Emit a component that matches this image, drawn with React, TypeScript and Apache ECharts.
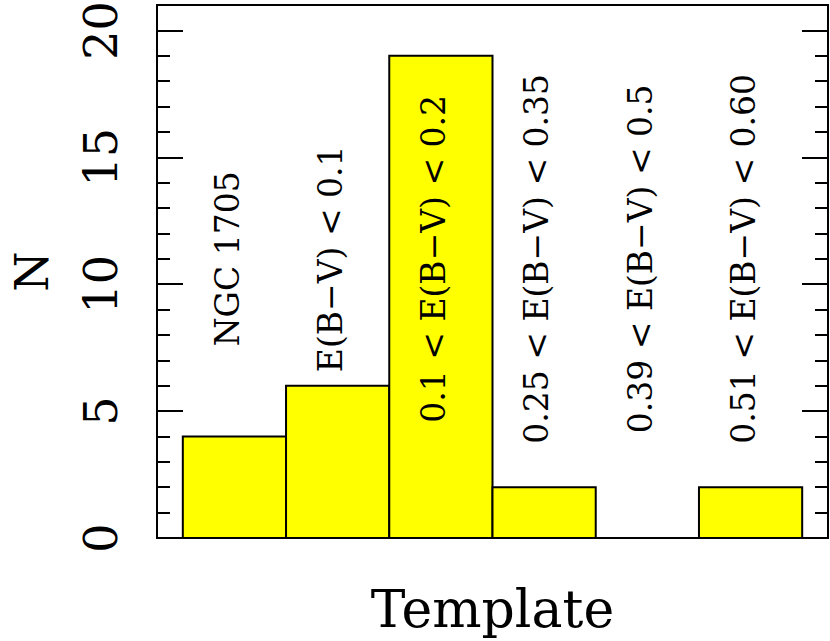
import React, { useEffect, useRef } from "react";
import * as echarts from "echarts";

const categories = ["NGC 1705", "E(B−V) < 0.1", "0.1 < E(B−V) < 0.2", "0.25 < E(B−V) < 0.35", "0.39 < E(B−V) < 0.5", "0.51 < E(B−V) < 0.60"];
const counts = [4, 6, 19, 2, 0, 2];
const labelLevel = 11;
const yTicks = [0, 5, 10, 15, 20];

const FONT = "DejaVu Serif";

export default function App() {
  const ref = useRef<HTMLDivElement>(null);
  useEffect(() => {
    const chart = echarts.init(ref.current!, null, { renderer: "svg" });
    const black = "#000";
    const majorAxis = (pos: "left" | "right", showLabel: boolean) => ({
      type: "value",
      position: pos,
      min: 0,
      max: 21,
      interval: 5,
      axisLine: { show: false, onZero: false },
      axisTick: { show: true, inside: true, length: 26, lineStyle: { color: black, width: 2 } },
      splitLine: { show: false },
      axisLabel: {
        show: showLabel,
        rotate: 90,
        margin: 33,
        fontSize: 46,
        fontFamily: FONT,
        color: black,
        showMaxLabel: false,
        formatter: (v: number) => (yTicks.includes(v) ? String(v) : ""),
      },
      ...(showLabel
        ? {
            name: "N",
            nameLocation: "middle",
            nameRotate: 90,
            nameGap: 108,
            nameTextStyle: { fontSize: 46, lineHeight: 34, fontFamily: FONT, color: black },
          }
        : {}),
    });
    const minorAxis = (pos: "left" | "right") => ({
      type: "value",
      position: pos,
      min: 0,
      max: 21,
      interval: 1,
      axisLine: { show: false, onZero: false },
      axisTick: { show: true, inside: true, length: 13, lineStyle: { color: black, width: 2 } },
      splitLine: { show: false },
      axisLabel: { show: false },
    });
    chart.setOption({
      animation: false,
      backgroundColor: "#fff",
      grid: {
        left: 157,
        right: 2,
        top: 5,
        bottom: 103,
        containLabel: false,
        outerBoundsMode: "none",
        show: true,
        borderColor: black,
        borderWidth: 2,
        backgroundColor: "transparent",
      },
      xAxis: {
        type: "value",
        min: -0.75,
        max: 5.75,
        axisLine: { show: false, onZero: false },
        axisTick: { show: false },
        axisLabel: { show: false },
        splitLine: { show: false },
        name: "Template",
        nameLocation: "middle",
        nameGap: 45,
        nameTextStyle: { fontSize: 52, fontFamily: FONT, color: black },
      },
      yAxis: [majorAxis("left", true), minorAxis("left"), majorAxis("right", false), minorAxis("right")],
      series: [
        {
          type: "custom",
          xAxisIndex: 0,
          yAxisIndex: 0,
          data: counts.map((c, i) => [i, c]),
          renderItem: (params: any, api: any) => {
            const i = api.value(0);
            const v = api.value(1);
            if (!v) return null;
            const p0 = api.coord([i - 0.5, v]);
            const p1 = api.coord([i + 0.5, 0]);
            return {
              type: "rect",
              shape: { x: p0[0], y: p0[1], width: p1[0] - p0[0], height: p1[1] - p0[1] },
              style: { fill: "#ffff00", stroke: black, lineWidth: 2 },
            };
          },
        },
        {
          type: "custom",
          xAxisIndex: 0,
          yAxisIndex: 0,
          data: categories.map((c, i) => [i, labelLevel]),
          renderItem: (params: any, api: any) => {
            const i = api.value(0);
            const p = api.coord([i - 0.07, api.value(1)]);
            return {
              type: "text",
              x: p[0],
              y: p[1],
              rotation: Math.PI / 2,
              style: {
                text: categories[params.dataIndex],
                fontSize: 33,
                fontFamily: FONT,
                fill: black,
                align: "center",
                verticalAlign: "middle",
              },
            };
          },
        },
      ],
    });
    return () => chart.dispose();
  }, []);
  return <div ref={ref} style={{ position: "fixed", left: 0, top: 0, width: 830, height: 641 }} />;
}
